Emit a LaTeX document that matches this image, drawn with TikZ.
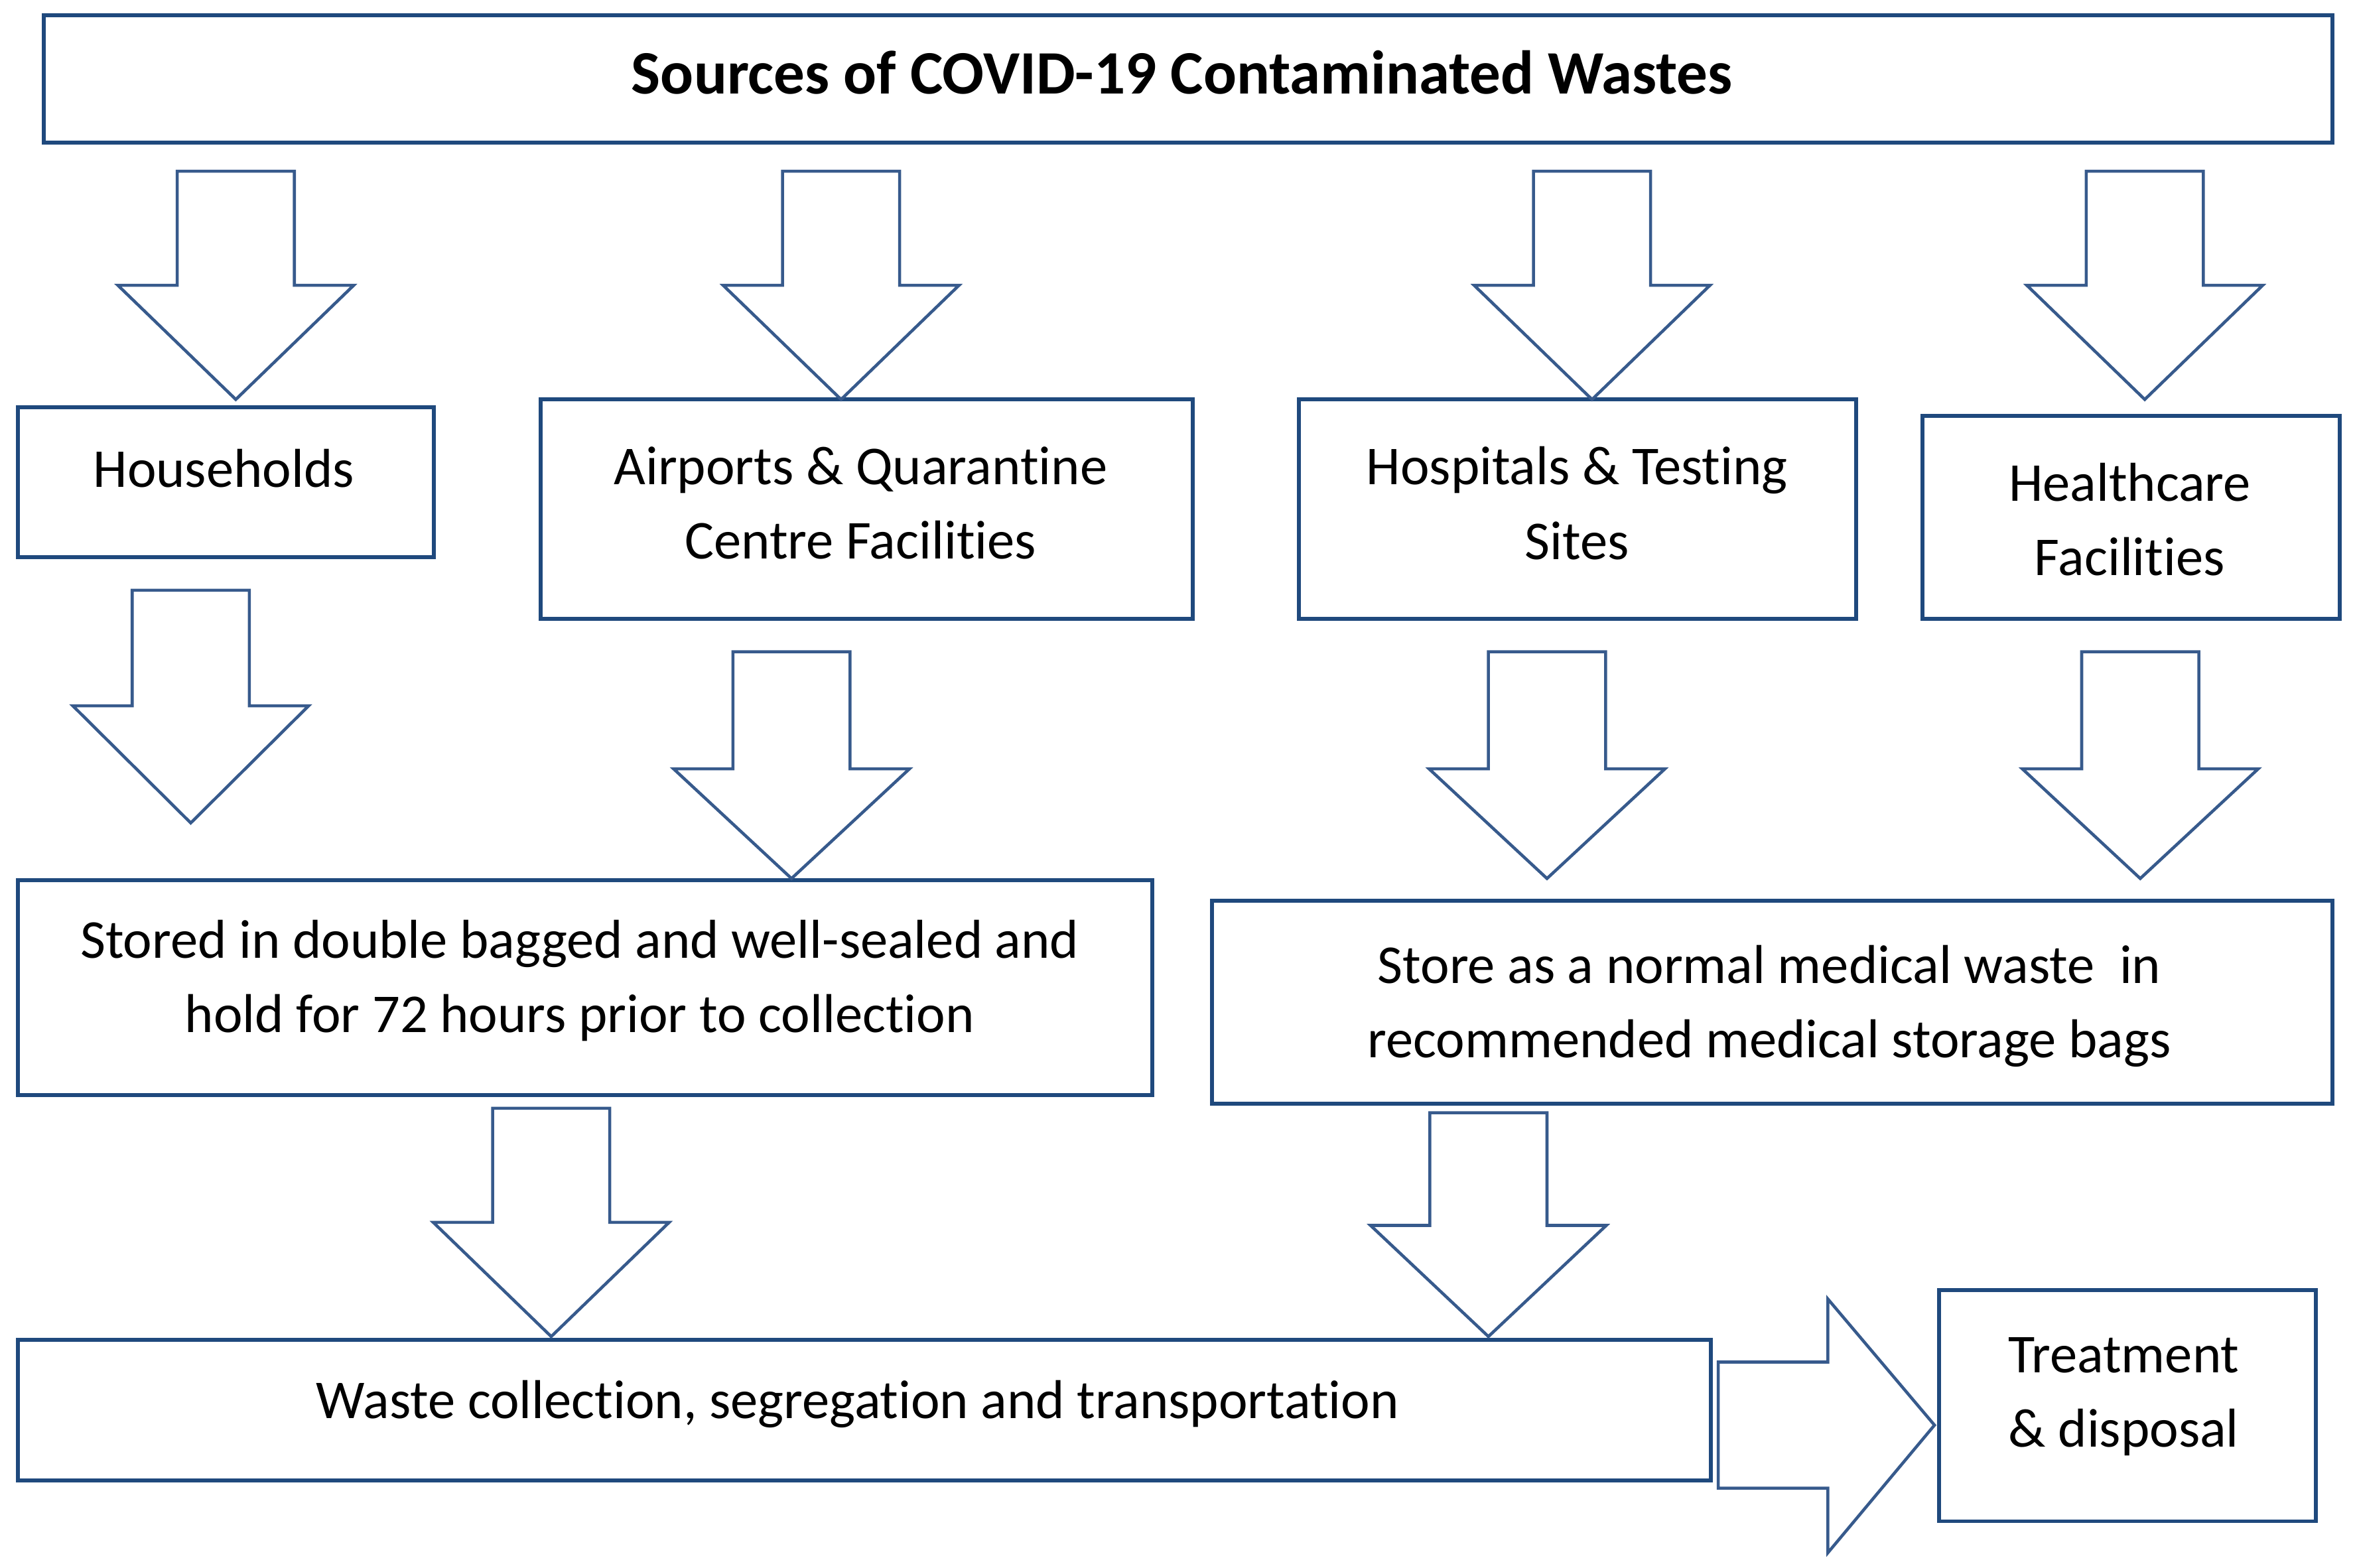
\documentclass[tikz,border=0pt]{standalone}
\usepackage{fontspec}
\setmainfont{Carlito}[Ligatures={NoCommon}]
\usetikzlibrary{fit}
\definecolor{boxblue}{RGB}{31,73,125}
\definecolor{arrblue}{RGB}{55,90,140}
\newcommand\dnarrow[4]{%
  \draw[blockarrow] (#1-39,#2) -- (#1+39,#2) -- (#1+39,#3) -- (#1+78.5,#3) -- (#1,#4) -- (#1-78.5,#3) -- (#1-39,#3) -- cycle;}
\begin{document}
\begin{tikzpicture}[x=0.02264cm,y=-0.02264cm,
  box/.style={draw=boxblue, line width=1.7pt, fill=white, inner sep=0pt, rectangle},
  txt/.style={font=\fontsize{23.5}{32}\selectfont, align=center, inner sep=0pt, text=black},
  blockarrow/.style={draw=arrblue, line width=1.3pt, fill=white, line join=miter}]
\useasboundingbox (0,0) rectangle (1568,1044);
% boxes
\node[box, fit={(29,10) (1553,95)}] (src) {};
\node[box, fit={(12,271) (289,371)}] (hh) {};
\node[box, fit={(360,266) (794,412)}] (air) {};
\node[box, fit={(865,266) (1236,412)}] (hosp) {};
\node[box, fit={(1280,277) (1558,412)}] (hc) {};
\node[box, fit={(12,586) (767,729)}] (stored) {};
\node[box, fit={(807,600) (1553,735)}] (store) {};
\node[box, fit={(12,892) (1139,986)}] (coll) {};
\node[box, fit={(1291,859) (1542,1013)}] (treat) {};
% texts
\node[txt, font=\fontsize{26.5}{32}\selectfont\bfseries] (tsrc) at (787,48) {Sources of COVID-19 Contaminated Wastes};
\node[txt] (thh) at (149,312) {Households};
\node[txt] (tair) at (573,335) {Airports \& Quarantine\\Centre Facilities};
\node[txt] (thosp) at (1050,335) {Hospitals \& Testing\\Sites};
\node[txt] (thc) at (1418,346) {Healthcare\\Facilities};
\node[txt] (tstored) at (386,653) {Stored in double bagged and well-sealed and\\hold for 72 hours prior to collection};
\node[txt] (tstore) at (1178,670) {Store as a normal medical waste\ \ in\\recommended medical storage bags};
\node[txt] (tcoll) at (571,935) {Waste collection, segregation and transportation};
\node[txt] (ttreat) at (1414,930) {Treatment\\\& disposal};
% block arrows
\dnarrow{157}{114}{190}{266}
\dnarrow{560}{114}{190}{266}
\dnarrow{1060}{114}{190}{266}
\dnarrow{1428}{114}{190}{266}
\dnarrow{127}{393}{470}{548}
\dnarrow{527}{434}{512}{585}
\dnarrow{1030}{434}{512}{585}
\dnarrow{1425}{434}{512}{585}
\dnarrow{367}{738}{814}{890}
\dnarrow{991}{741}{816}{890}
\draw[blockarrow] (1144,907) -- (1217,907) -- (1217,865) -- (1288,949) -- (1217,1034) -- (1217,991) -- (1144,991) -- cycle;
\end{tikzpicture}
\end{document}
